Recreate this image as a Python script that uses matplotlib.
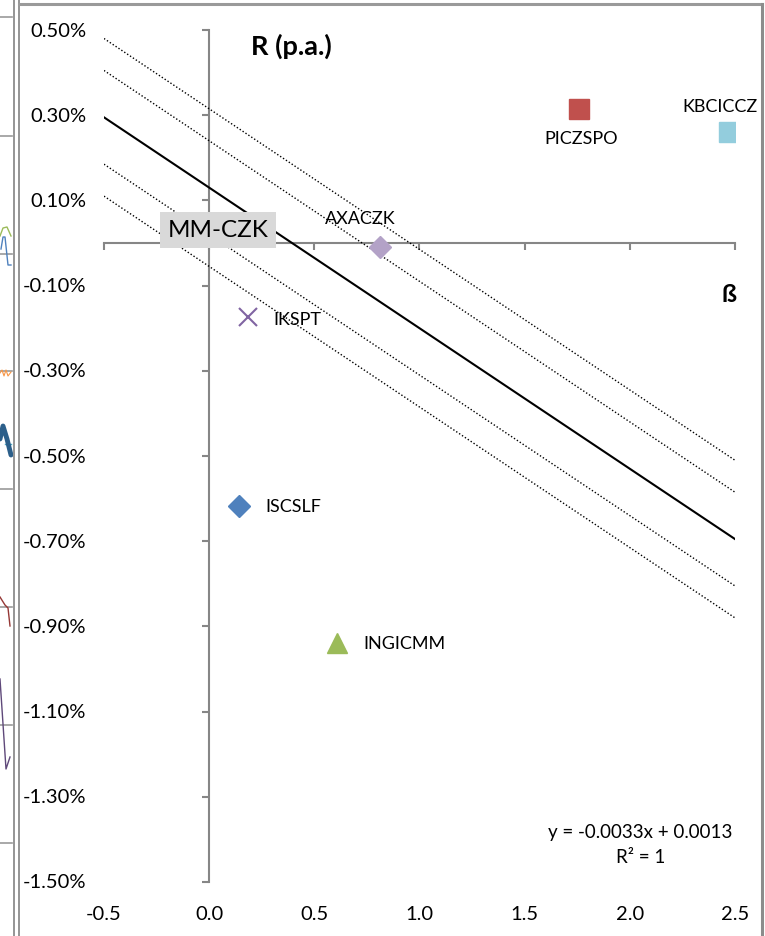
import numpy as np
import matplotlib.pyplot as plt
from matplotlib.lines import Line2D

plt.rcParams['font.family'] = ['Lato', 'DejaVu Sans']

# fund data: beta, return p.a.
names = ['PICZSPO', 'KBCICCZ', 'AXACZK', 'IKSPT', 'ISCSLF', 'INGICMM']
beta = [1.76, 2.47, 0.81, 0.185, 0.14, 0.61]
ret = [0.00315, 0.0026, -0.0001, -0.00174, -0.00617, -0.0094]
markers = ['s', 's', 'D', 'x', 'D', '^']
colors = ['#C0504D', '#93CDDD', '#B3A2C7', '#8064A2', '#4F81BD', '#9BBB59']
label_off = [(1.5, -21), (-6, 19), (-14, 21), (18, -1), (19, 0), (19, 0)]
label_ha = ['center', 'center', 'center', 'left', 'left', 'left']

# trend line y = -0.0033x + 0.0013 and parallel bands
slope = -0.0033
intercept = 0.0013
band_offsets = [0.00185, 0.0011, -0.0011, -0.00185]
x_line = [-0.5, 2.5]

mm_name = 'MM-CZK'
mm_beta, mm_ret = 0.0, 0.0

xticks = [-0.5, 0.0, 0.5, 1.0, 1.5, 2.0, 2.5]
yticks = [0.005, 0.003, 0.001, -0.001, -0.003, -0.005, -0.007, -0.009, -0.011, -0.013, -0.015]

# bits of the neighbouring chart visible at the left edge (pixel coords)
nb_grid = [18, 137, 255, 372, 490, 608, 726, 844]
nb_green = ([0, 3, 7, 11], [237, 229, 228, 237])
nb_blue = ([1, 3, 5, 8, 11], [250, 238, 238, 266, 266])
nb_orange = ([0, 2, 4, 6, 8, 11], [374, 371, 377, 371, 377, 373])
nb_navy = ([0, 3, 7, 11], [440, 427, 440, 456])
nb_teal = ([5, 11], [445, 445])
nb_red = ([0, 5, 8, 10], [598, 606, 609, 627])
nb_purple = ([0, 6, 10], [680, 770, 758])

W, H = 765, 937
fig = plt.figure(figsize=(W / 100, H / 100), dpi=100)

# neighbour chart fragment
axn = fig.add_axes([0, 0, 13 / W, 1])
axn.set_xlim(0, 13)
axn.set_ylim(H, 0)
axn.axis('off')
for g in nb_grid:
    axn.plot([0, 12], [g, g], color='#9a9a9a', lw=1.2)
axn.plot(*nb_green, color='#9BBB59', lw=1)
axn.plot(*nb_blue, color='#4F81BD', lw=1)
axn.plot(*nb_orange, color='#F79646', lw=0.8)
axn.plot(*nb_teal, color='#4BACC6', lw=1)
axn.plot(*nb_navy, color='#2C5F8A', lw=3.5, solid_capstyle='round')
axn.plot(*nb_red, color='#953735', lw=1)
axn.plot(*nb_purple, color='#5F497A', lw=1)

# chart frame
for xx in (14.5, 18.5):
    fig.add_artist(Line2D([xx / W, xx / W], [0, 1], color='#8c8c8c', lw=1.3))
fig.add_artist(Line2D([18.5 / W, 762 / W], [1 - 5 / H, 1 - 5 / H], color='#9a9a9a', lw=2.2))
fig.add_artist(Line2D([762 / W, 762 / W], [0, 1 - 5 / H], color='#8c8c8c', lw=2.2))

ax = fig.add_axes([104 / W, 1 - 883 / H, 631 / W, 852 / H])
ax.set_xlim(-0.5, 2.5)
ax.set_ylim(-0.015, 0.005)
ax.patch.set_alpha(0)

for s in ['top', 'right']:
    ax.spines[s].set_visible(False)
ax.spines['left'].set_position(('data', 0))
ax.spines['bottom'].set_position(('data', 0))
for s in ['left', 'bottom']:
    ax.spines[s].set_color('#868686')
    ax.spines[s].set_linewidth(1.5)
ax.set_xticks(xticks)
ax.set_yticks(yticks)
ax.tick_params(direction='out', length=5, width=1.5, color='#868686',
               labelleft=False, labelbottom=False)

# tick labels at the low edges
for t in yticks:
    ax.text(-0.585, t, f'{t * 100:.2f}%', ha='right', va='center', fontsize=14.5,
            transform=ax.transData, clip_on=False)
for t in xticks:
    ax.text(t, -0.01555, f'{t:.1f}', ha='center', va='top', fontsize=14.5, clip_on=False)

xl = np.array(x_line)
ax.plot(xl, slope * xl + intercept, color='black', lw=1.5, zorder=3)
for off in band_offsets:
    ax.plot(xl, slope * xl + intercept + off, color='black', lw=1, ls=(0, (1, 1.5)), zorder=3)

for n, b, r, m, c, lo, ha in zip(names, beta, ret, markers, colors, label_off, label_ha):
    if m == 'x':
        ax.plot(b, r, marker=m, ms=13, mew=1.5, color=c, ls='none', zorder=4)
    elif m == 'D':
        ax.plot(b, r, marker=m, ms=11, color=c, mec=c, ls='none', zorder=4)
    elif m == '^':
        ax.plot(b, r, marker=m, ms=15, color=c, mec=c, ls='none', zorder=4)
    else:
        ax.plot(b, r, marker=m, ms=14, color=c, mec=c, ls='none', zorder=4)
    ax.annotate(n, (b, r), xytext=lo, textcoords='offset points', ha=ha, va='center',
                fontsize=13, zorder=5)

ax.annotate(mm_name, (mm_beta, mm_ret), xytext=(6.5, 9.5), textcoords='offset points',
            ha='center', va='center', fontsize=17.5, zorder=5,
            bbox=dict(boxstyle='square,pad=0.32', fc='#d9d9d9', ec='none'))

ax.text(0.2, 0.00465, 'R (p.a.)', ha='left', va='center', fontsize=19.5, fontweight='bold')
ax.text(2.505, -0.00118, 'ß', ha='right', va='center', fontsize=18, fontweight='bold')

ax.text(2.05, -0.01411, 'y = -0.0033x + 0.0013\nR² = 1', ha='center', va='center',
        fontsize=13.5, linespacing=1.55)

fig.savefig('out.png', dpi=100)
